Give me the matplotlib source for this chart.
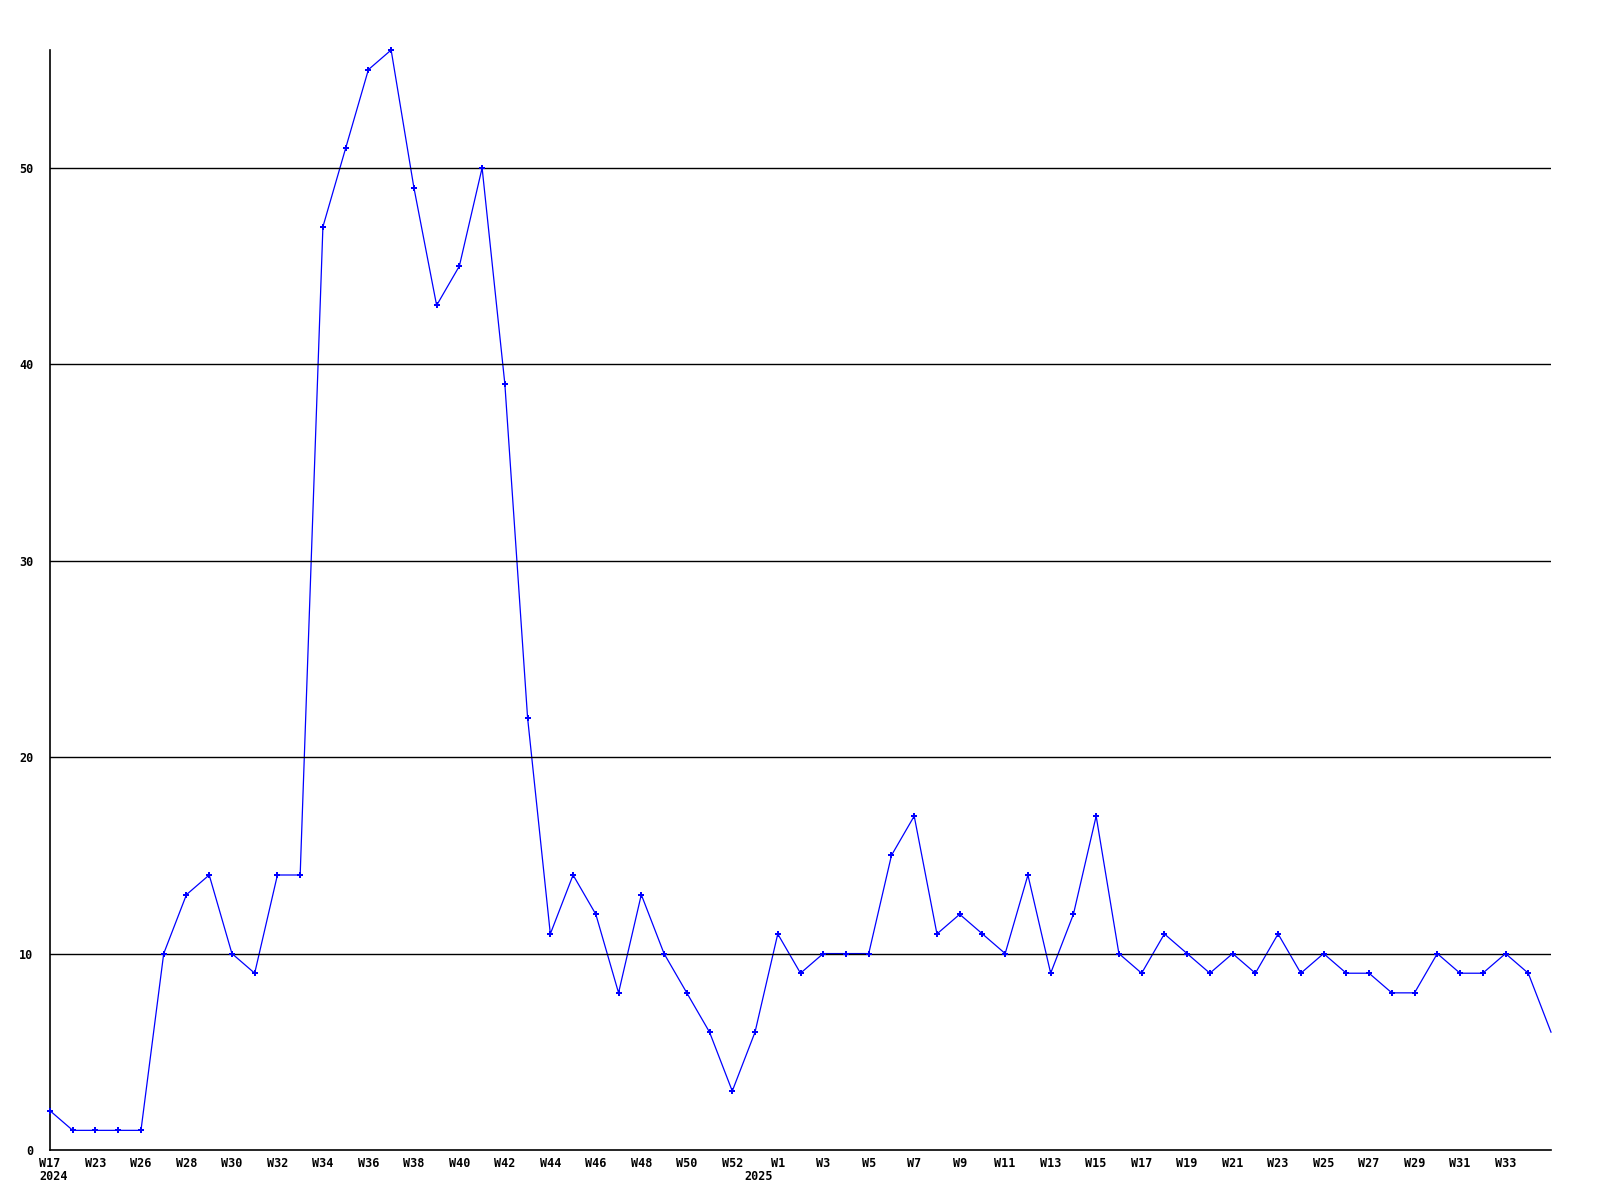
import matplotlib
matplotlib.use("Agg")
import matplotlib.pyplot as plt
import matplotlib.transforms as mtransforms

# Weekly values (W17 2024 .. W35 2025)
values = [2, 1, 1, 1, 1, 10, 13, 14, 10, 9, 14, 14, 47, 51, 55, 56, 49, 43, 45, 50,
          39, 22, 11, 14, 12, 8, 13, 10, 8, 6, 3, 6, 11, 9, 10, 10, 10, 15, 17, 11,
          12, 11, 10, 14, 9, 12, 17, 10, 9, 11, 10, 9, 10, 9, 11, 9, 10, 9, 9, 8,
          8, 10, 9, 9, 10, 9, 6]

# Tick labels shown on every second point (blank = no label)
tick_labels = ["W17", "", "W23", "", "W26", "", "W28", "", "W30", "", "W32", "", "W34", "",
               "W36", "", "W38", "", "W40", "", "W42", "", "W44", "", "W46", "", "W48", "",
               "W50", "", "W52", "", "W1", "", "W3", "", "W5", "", "W7", "", "W9", "",
               "W11", "", "W13", "", "W15", "", "W17", "", "W19", "", "W21", "", "W23", "",
               "W25", "", "W27", "", "W29", "", "W31", "", "W33", "", ""]

year_labels = ["2024", "2025"]
year_positions = [0, 31]

y_ticks = [0, 10, 20, 30, 40, 50]

font = dict(family="DejaVu Sans Mono", weight="bold", size=8.5)

fig = plt.figure(figsize=(16, 12), dpi=100)
ax = fig.add_axes([50 / 1600, 1 - 1150 / 1200, (1551 - 50) / 1600, 1100 / 1200])

x = list(range(len(values)))
ax.plot(x, values, color="#0000ff", lw=0.9, zorder=1, clip_on=False)
ax.plot(x[:-1], values[:-1], ls="none", marker="P", ms=4, color="#0000ff",
        markeredgewidth=0, zorder=3, clip_on=False)

for yv in y_ticks[1:]:
    ax.axhline(yv, color="black", lw=1.0, zorder=2)

ax.set_xlim(0, len(values) - 1)
ax.set_ylim(0, 56)

ax.set_yticks(y_ticks)
ax.set_yticklabels([str(v) for v in y_ticks], fontdict=font)
ax.set_xticks(x)
ax.set_xticklabels(tick_labels, fontdict=font)
ax.tick_params(axis="y", length=0, pad=12)
ax.tick_params(axis="x", length=0, pad=5)

for s in ["top", "right"]:
    ax.spines[s].set_visible(False)
for s in ["left", "bottom"]:
    ax.spines[s].set_color("black")
    ax.spines[s].set_linewidth(1.2)

trans = mtransforms.blended_transform_factory(ax.transData, ax.transAxes)
offset = mtransforms.ScaledTranslation(-11 / 100, -27 / 100, fig.dpi_scale_trans)
for lab, pos in zip(year_labels, year_positions):
    ax.text(pos, 0, lab, transform=trans + offset, ha="left", va="center", **font)

fig.savefig("out.png", dpi=100, facecolor="white")
